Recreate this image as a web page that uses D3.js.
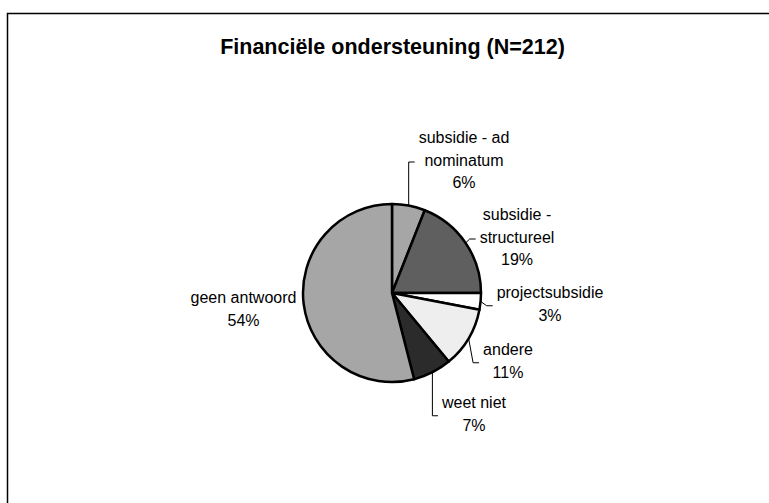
<!DOCTYPE html>
<html>
<head>
<meta charset="utf-8">
<script src="https://cdn.jsdelivr.net/npm/d3@7/dist/d3.min.js"></script>
<style>
  html, body { margin: 0; padding: 0; background: #fff; }
  svg { display: block; }
  text { font-family: "Liberation Sans", Arial, sans-serif; fill: #000; }
</style>
</head>
<body>
<svg id="chart" width="769" height="503"></svg>
<script>
// ---- data ----
const title = "Financiële ondersteuning (N=212)";
const categories = ["subsidie - ad nominatum", "subsidie - structureel", "projectsubsidie", "andere", "weet niet", "geen antwoord"];
const values = [6, 19, 3, 11, 7, 54];
const labelLines = [
  ["subsidie - ad", "nominatum", "6%"],
  ["subsidie -", "structureel", "19%"],
  ["projectsubsidie", "3%"],
  ["andere", "11%"],
  ["weet niet", "7%"],
  ["geen antwoord", "54%"]
];

// ---- layout / style ----
const colors = ["#a6a6a6", "#5f5f5f", "#ffffff", "#eeeeee", "#2b2b2b", "#a6a6a6"];
const labelLayout = [ // label centre x, first baseline y, leader?
  {x: 464, y: 143, leader: true},
  {x: 517, y: 220, leader: true},
  {x: 550, y: 298, leader: true},
  {x: 508, y: 355, leader: true},
  {x: 474, y: 408, leader: true},
  {x: 243.5, y: 303, leader: false}
];
const lineH = 22.5;
const cx = 392, cy = 293, R = 89;

const svg = d3.select("#chart");

// frame
svg.append("rect").attr("x", 7.5).attr("y", 13.5).attr("width", 900).attr("height", 700)
  .attr("fill", "none").attr("stroke", "#000").attr("stroke-width", 1.5);

// title
svg.append("text").attr("x", 392.5).attr("y", 54).attr("text-anchor", "middle")
  .style("font-size", "21.5px").style("font-weight", "bold").text(title);

const pie = d3.pie().sort(null).value(d => d)(values);
const arc = d3.arc().innerRadius(0).outerRadius(R);
const edge = d3.arc().innerRadius(R).outerRadius(R);

const g = svg.append("g").attr("transform", `translate(${cx},${cy})`);
g.selectAll("path").data(pie).enter().append("path")
  .attr("d", arc)
  .attr("fill", (d, i) => colors[i])
  .attr("stroke", "#000").attr("stroke-width", 2.5).attr("stroke-linejoin", "round");

// labels
const lg = svg.append("g");
labelLines.forEach((lines, i) => {
  const L = labelLayout[i];
  const t = lg.append("text").attr("text-anchor", "middle").style("font-size", "16px");
  const tspans = lines.map((s, k) => t.append("tspan").attr("x", L.x).attr("y", L.y + k * lineH).text(s));
  if (L.leader) {
    let maxW = 0;
    tspans.forEach(ts => { maxW = Math.max(maxW, ts.node().getComputedTextLength()); });
    const left = L.x - maxW / 2 - 4;
    const top = L.y - 12, bottom = L.y + (lines.length - 1) * lineH + 5;
    const mid = (top + bottom) / 2;
    const c = edge.centroid(pie[i]);
    const sx = cx + c[0], sy = cy + c[1];
    const ex = left, ey = mid;
    const bx = Math.max(ex - 6, Math.min(sx, ex - 1));
    lg.append("path")
      .attr("d", `M${sx},${sy}L${bx},${ey}L${ex},${ey}`)
      .attr("fill", "none").attr("stroke", "#000").attr("stroke-width", 1);
  }
});
</script>
</body>
</html>
